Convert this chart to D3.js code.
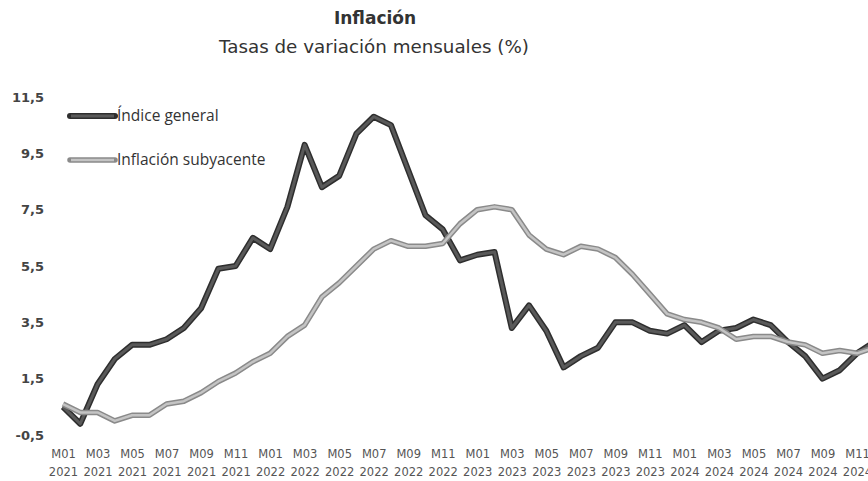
<!DOCTYPE html>
<html><head><meta charset="utf-8">
<script src="https://cdn.jsdelivr.net/npm/d3@7"></script>
<style>
html,body{margin:0;padding:0;background:#fff;}
svg{display:block;}
</style></head>
<body>
<svg id="chart" width="868" height="481"></svg>
<script>
const title = "Inflación";
const subtitle = "Tasas de variación mensuales (%)";
const years = ["2021","2022","2023","2024"];
const months = ["M01","M02","M03","M04","M05","M06","M07","M08","M09","M10","M11","M12"];
const categories = years.flatMap(y => months.map(m => m + " " + y));
const seriesNames = ["Índice general", "Inflación subyacente"];
const indiceGeneral = [
  0.5,-0.1,1.3,2.2,2.7,2.7,2.9,3.3,4.0,5.4,5.5,6.5,
  6.1,7.6,9.8,8.3,8.7,10.2,10.8,10.5,8.9,7.3,6.8,5.7,
  5.9,6.0,3.3,4.1,3.2,1.9,2.3,2.6,3.5,3.5,3.2,3.1,
  3.4,2.8,3.2,3.3,3.6,3.4,2.8,2.3,1.5,1.8,2.4,2.8
];
const subyacente = [
  0.6,0.3,0.3,0.0,0.2,0.2,0.6,0.7,1.0,1.4,1.7,2.1,
  2.4,3.0,3.4,4.4,4.9,5.5,6.1,6.4,6.2,6.2,6.3,7.0,
  7.5,7.6,7.5,6.6,6.1,5.9,6.2,6.1,5.8,5.2,4.5,3.8,
  3.6,3.5,3.3,2.9,3.0,3.0,2.8,2.7,2.4,2.5,2.4,2.6
];
const yTicks = [-0.5,1.5,3.5,5.5,7.5,9.5,11.5];

const svg = d3.select("#chart");
const x = d3.scaleLinear().domain([0, 46]).range([63, 857]);
const y = d3.scaleLinear().domain([-0.5, 11.5]).range([435, 97]);
const fmt = v => d3.format(".1f")(v).replace(".", ",").replace("−","-");

// Title
svg.append("text").attr("x", 375).attr("y", 24).attr("text-anchor","middle")
  .attr("font-family","DejaVu Sans").attr("font-weight","bold").attr("font-size",17)
  .attr("fill","#333").text(title);
svg.append("text").attr("x", 374).attr("y", 53).attr("text-anchor","middle")
  .attr("font-family","DejaVu Sans").attr("font-size",18.3)
  .attr("fill","#333").text(subtitle);

// Y axis
const yAxis = d3.axisLeft(y).tickValues(yTicks).tickFormat(fmt).tickSize(0).tickPadding(0);
const gy = svg.append("g").attr("transform","translate(44,0)").call(yAxis);
gy.select(".domain").remove();
gy.selectAll("text").attr("font-family","DejaVu Sans").attr("font-weight","bold")
  .attr("font-size",13).attr("fill","#444");

// X axis
const xIdx = d3.range(0, 47, 2);
const xAxis = d3.axisBottom(x).tickValues(xIdx).tickSize(0).tickFormat(() => "");
const gx = svg.append("g").attr("transform","translate(0,447)").call(xAxis);
gx.select(".domain").remove();
gx.selectAll(".tick text").each(function(d){
  const parts = categories[d].split(" ");
  const t = d3.select(this).attr("y", 0).attr("dy", null)
    .attr("font-family","DejaVu Sans").attr("font-size",11.5).attr("fill","#555");
  t.append("tspan").attr("x",0).attr("y",11).text(parts[0]);
  t.append("tspan").attr("x",0).attr("y",29).text(parts[1]);
});

// Lines
const line = d3.line().x((d,i) => x(i)).y(d => y(d)).curve(d3.curveLinear);
const styles = [
  {data: indiceGeneral, outer:"#2e2e2e", inner:"#595959", ow:6, iw:3},
  {data: subyacente, outer:"#8a8a8a", inner:"#c4c4c4", ow:5.5, iw:2.5}
];
styles.forEach(s => {
  svg.append("path").attr("d", line(s.data)).attr("fill","none")
    .attr("stroke", s.outer).attr("stroke-width", s.ow).attr("stroke-linejoin","round");
  svg.append("path").attr("d", line(s.data)).attr("fill","none")
    .attr("stroke", s.inner).attr("stroke-width", s.iw).attr("stroke-linejoin","round");
});

// Legend
const legY = [116, 160];
styles.forEach((s, i) => {
  svg.append("line").attr("x1",70).attr("x2",115).attr("y1",legY[i]).attr("y2",legY[i])
    .attr("stroke", s.outer).attr("stroke-width", s.ow).attr("stroke-linecap","round");
  svg.append("line").attr("x1",71).attr("x2",114).attr("y1",legY[i]).attr("y2",legY[i])
    .attr("stroke", s.inner).attr("stroke-width", s.iw);
  svg.append("text").attr("x",117).attr("y",legY[i]+5)
    .attr("font-family","Open Sans").attr("font-size",15.5).attr("fill","#333")
    .text(seriesNames[i]);
});
</script>
</body></html>
